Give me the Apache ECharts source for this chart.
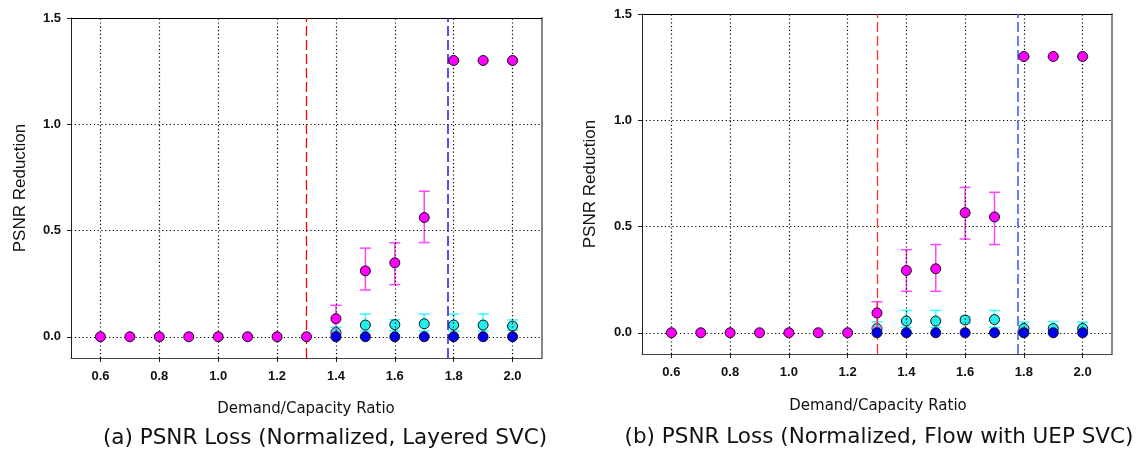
<!DOCTYPE html>
<html>
<head>
<meta charset="utf-8">
<script src="https://cdn.jsdelivr.net/npm/echarts@6/dist/echarts.min.js"></script>
<style>
html,body{margin:0;padding:0;background:#fff;}
#chart{width:1141px;height:454px;}
</style>
</head>
<body>
<div id="chart"></div>
<script>
// ---- data ----
const ratios = [0.6,0.7,0.8,0.9,1.0,1.1,1.2,1.3,1.4,1.5,1.6,1.7,1.8,1.9,2.0];
const xTicks = [0.6,0.8,1.0,1.2,1.4,1.6,1.8,2.0];
const yTicks = [0,0.5,1.0,1.5];
const yGrid = [0,0.5,1.0];

// (a) Layered SVC
const magentaA = [0,0,0,0,0,0,0,0,0.085,0.31,0.348,0.561,1.30,1.30,1.30];
const magentaLoA = [null,null,null,null,null,null,null,null,0.02,0.22,0.245,0.443,1.30,1.30,1.30];
const magentaHiA = [null,null,null,null,null,null,null,null,0.148,0.417,0.442,0.685,1.30,1.30,1.30];
const cyanA = [null,null,null,null,null,null,null,null,0.02,0.055,0.057,0.061,0.055,0.055,0.05];
const cyanLoA = [null,null,null,null,null,null,null,null,0.01,0.027,0.027,0.027,0.027,0.027,0.032];
const cyanHiA = [null,null,null,null,null,null,null,null,0.045,0.107,0.08,0.107,0.107,0.107,0.079];
const blueA = [null,null,null,null,null,null,null,null,0,0,0,0,0,0,0];
const redLineA = 1.3;
const blueLineA = 1.78;

// (b) Flow with UEP SVC
const magentaB = [0,0,0,0,0,0,0,0.093,0.293,0.301,0.565,0.545,1.30,1.30,1.30];
const magentaLoB = [null,null,null,null,null,null,null,0.024,0.195,0.195,0.441,0.415,1.30,1.30,1.30];
const magentaHiB = [null,null,null,null,null,null,null,0.146,0.391,0.415,0.684,0.661,1.30,1.30,1.30];
const cyanB = [null,null,null,null,null,null,null,0.02,0.055,0.055,0.06,0.062,0.02,0.02,0.02];
const cyanLoB = [null,null,null,null,null,null,null,0.0,0.025,0.025,0.045,0.025,0.0,0.0,0.0];
const cyanHiB = [null,null,null,null,null,null,null,0.052,0.105,0.105,0.077,0.105,0.05,0.053,0.05];
const blueB = [null,null,null,null,null,null,null,0,0,0,0,0,0,0,0];
const redLineB = 1.3;
const blueLineB = 1.779;

const yTitle = 'PSNR Reduction';
const xTitle = 'Demand/Capacity Ratio';
const captionA = '(a) PSNR Loss (Normalized, Layered SVC)';
const captionB = '(b) PSNR Loss (Normalized, Flow with UEP SVC)';

// ---- helpers ----
function pts(vals){ const out=[]; vals.forEach((v,i)=>{ if(v!==null) out.push([ratios[i], v]); }); return out; }
function errs(lo, hi){ const out=[]; lo.forEach((v,i)=>{ if(v!==null && hi[i]!==null) out.push([ratios[i], v, hi[i]]); }); return out; }
const fmt = v => Number(v).toFixed(1);

function errSeries(idx, data, color, z){
  return {
    type:'custom', xAxisIndex: idx*2, yAxisIndex: idx*2, z: z, silent:true,
    data: data,
    renderItem: function(params, api){
      const x = api.value(0), lo = api.value(1), hi = api.value(2);
      const pH = api.coord([x, hi]), pL = api.coord([x, lo]);
      const w = 5.5;
      const st = {stroke: color, lineWidth: 1.5};
      return {type:'group', children:[
        {type:'line', shape:{x1:pH[0],y1:pH[1],x2:pL[0],y2:pL[1]}, style:st},
        {type:'line', shape:{x1:pH[0]-w,y1:pH[1],x2:pH[0]+w,y2:pH[1]}, style:st},
        {type:'line', shape:{x1:pL[0]-w,y1:pL[1],x2:pL[0]+w,y2:pL[1]}, style:st}
      ]};
    }
  };
}
function scat(idx, data, color, z){
  return {type:'scatter', xAxisIndex: idx*2, yAxisIndex: idx*2, z:z, silent:true,
    symbol:'circle', symbolSize:10, data:data,
    itemStyle:{color:color, borderColor:'#111', borderWidth:1, opacity:1}};
}
function gridLines(idx){
  const d = [];
  xTicks.forEach(v=>d.push({xAxis:v}));
  yGrid.forEach(v=>d.push({yAxis:v}));
  return {type:'scatter', xAxisIndex: idx*2, yAxisIndex: idx*2, z:1, silent:true, data:[],
    markLine:{silent:true, symbol:['none','none'], label:{show:false}, animation:false,
      lineStyle:{color:'#000', type:[1.2,2.6], width:1.2}, data:d}};
}
function refLines(idx, redX, blueX, redC, blueC){
  return {type:'scatter', xAxisIndex: idx*2, yAxisIndex: idx*2, z:10, silent:true, data:[],
    markLine:{silent:true, symbol:['none','none'], label:{show:false}, animation:false,
      data:[
        {xAxis:redX, lineStyle:{color:redC, type:[10,4], width:1.3}},
        {xAxis:blueX, lineStyle:{color:blueC, type:[10,4], width:1.5}}
      ]}};
}
const tickFont = {fontFamily:'Liberation Sans', fontWeight:'bold', fontSize:13, color:'#111'};
function axesX(idx){
  return [
    {type:'value', gridIndex:idx, min:0.5, max:2.1, position:'bottom',
      axisLine:{show:true, onZero:false, lineStyle:{color:'#444', width:1}},
      axisTick:{show:true, inside:false, length:4, customValues:xTicks, lineStyle:{color:'#222'}},
      axisLabel:Object.assign({customValues:xTicks, formatter:fmt, margin:12}, tickFont),
      splitLine:{show:false}},
    {type:'value', gridIndex:idx, min:0.5, max:2.1, position:'top',
      axisLine:{show:true, onZero:false, lineStyle:{color:'#000', width:1}},
      axisTick:{show:false}, axisLabel:{show:false}, splitLine:{show:false}}
  ];
}
function axesY(idx){
  return [
    {type:'value', gridIndex:idx, min:-0.1, max:1.5, position:'left',
      axisLine:{show:true, onZero:false, lineStyle:{color:'#222', width:1}},
      axisTick:{show:true, inside:false, length:4, customValues:yTicks, lineStyle:{color:'#222'}},
      axisLabel:Object.assign({customValues:yTicks, formatter:fmt, margin:10}, tickFont),
      splitLine:{show:false}},
    {type:'value', gridIndex:idx, min:-0.1, max:1.5, position:'right',
      axisLine:{show:true, onZero:false, lineStyle:{color:'#888', width:2}},
      axisTick:{show:false}, axisLabel:{show:false}, splitLine:{show:false}}
  ];
}
function text(x, y, str, size, family, rot){
  return {type:'text', x:x, y:y, rotation: rot||0, silent:true,
    style:{text:str, fontSize:size, fontFamily:family, fill:'#111', textAlign:'center', textVerticalAlign:'middle'}};
}

const chart = echarts.init(document.getElementById('chart'), null, {renderer:'canvas'});
chart.setOption({
  animation:false,
  backgroundColor:'#fff',
  grid:[
    {left:71, top:18, width:471, height:340},
    {left:642, top:14, width:470, height:340}
  ],
  xAxis: axesX(0).concat(axesX(1)),
  yAxis: axesY(0).concat(axesY(1)),
  series:[
    gridLines(0), gridLines(1),
    errSeries(0, errs(cyanLoA, cyanHiA), '#33ffff', 2),
    scat(0, pts(cyanA), '#22eeee', 3),
    errSeries(0, errs(magentaLoA, magentaHiA), '#ff44ff', 4),
    scat(0, pts(magentaA), '#ff00ff', 5),
    scat(0, pts(blueA), '#0000ee', 6),
    refLines(0, redLineA, blueLineA, '#ff0000', '#1a1aff'),
    errSeries(1, errs(cyanLoB, cyanHiB), '#33ffff', 2),
    scat(1, pts(cyanB), '#22eeee', 3),
    errSeries(1, errs(magentaLoB, magentaHiB), '#ff44ff', 4),
    scat(1, pts(magentaB), '#ff00ff', 5),
    scat(1, pts(blueB), '#0000ee', 6),
    refLines(1, redLineB, blueLineB, '#ff3030', '#3355ff')
  ],
  graphic:[
    text(20, 188, yTitle, 17, 'Liberation Sans', Math.PI/2),
    text(590, 184, yTitle, 17, 'Liberation Sans', Math.PI/2),
    text(306, 409, xTitle, 15, 'DejaVu Sans', 0),
    text(878, 406, xTitle, 15, 'DejaVu Sans', 0),
    text(325, 438, captionA, 21.5, 'DejaVu Sans', 0),
    text(879, 437, captionB, 21.5, 'DejaVu Sans', 0)
  ]
});
</script>
</body>
</html>
